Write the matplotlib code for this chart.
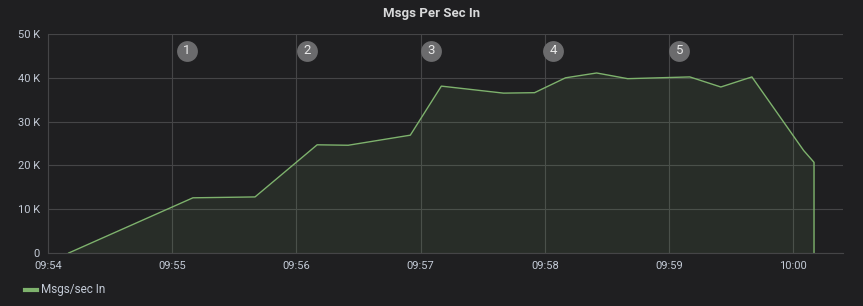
import datetime as dt

import matplotlib
import matplotlib.pyplot as plt
import matplotlib.dates as mdates
from matplotlib.ticker import FuncFormatter

matplotlib.use('agg')

# series data (time, msgs/sec)
times = ["09:54:10", "09:55:10", "09:55:40", "09:56:10", "09:56:25", "09:56:55",
         "09:57:10", "09:57:40", "09:57:55", "09:58:10", "09:58:25", "09:58:40",
         "09:59:10", "09:59:25", "09:59:40", "10:00:05", "10:00:10", "10:00:10"]
values = [0, 12600, 12800, 24700, 24600, 26900,
          38100, 36500, 36600, 40000, 41100, 39800,
          40200, 37900, 40200, 23400, 20700, 0]

# annotation markers
ann_times = ["09:55:07", "09:56:05", "09:57:05", "09:58:04", "09:59:05"]
ann_labels = ["1", "2", "3", "4", "5"]

day = dt.date(2020, 1, 1)


def to_dt(s):
    return dt.datetime.combine(day, dt.datetime.strptime(s, "%H:%M:%S").time())


x = [to_dt(t) for t in times]
ax_times = [to_dt(t) for t in ann_times]

bg = '#1f1f21'
grid_c = '#454547'
tick_c = '#c3cad6'
line_c = '#7eb26d'

plt.rcParams['font.family'] = ['Roboto', 'DejaVu Sans']

fig = plt.figure(figsize=(8.63, 3.06), dpi=100, facecolor=bg)
ax = fig.add_axes([48 / 863, 53 / 306, 795 / 863, 219 / 306], facecolor=bg)

ax.fill_between(x, values, 0, color=line_c, alpha=0.1, linewidth=0)
ax.plot(x, values, color=line_c, linewidth=1)

ax.set_xlim(to_dt("09:54:00"), to_dt("10:00:24"))
ax.set_ylim(0, 50000)
ax.set_yticks(range(0, 50001, 10000))
ax.yaxis.set_major_formatter(FuncFormatter(lambda v, p: "0" if v == 0 else f"{int(v / 1000)} K"))
ax.xaxis.set_major_locator(mdates.MinuteLocator())
ax.xaxis.set_major_formatter(mdates.DateFormatter('%H:%M'))

ax.grid(True, color=grid_c, linewidth=0.8)
ax.set_axisbelow(True)
for s in ['top', 'right']:
    ax.spines[s].set_visible(False)
for s in ['left', 'bottom']:
    ax.spines[s].set_color(grid_c)
    ax.spines[s].set_linewidth(0.8)
ax.tick_params(colors=tick_c, labelsize=8, length=0, pad=6)

# annotation circles
for t, lab in zip(ax_times, ann_labels):
    ax.plot(t, 46200, marker='o', markersize=15, color='#6b6b6d', markeredgewidth=0, zorder=5)
    ax.text(t, 46200, lab, color='#e8e8e8', fontsize=9.5, ha='center', va='center', zorder=6)

fig.text(0.5, 1 - 14 / 306, "Msgs Per Sec In", color='#d8d9da', fontsize=9.5,
         fontweight='bold', ha='center', va='center')

# legend
fig.lines.append(plt.Line2D([25 / 863, 37 / 863], [1 - 290 / 306] * 2, color=line_c,
                            linewidth=3, transform=fig.transFigure))
fig.text(41 / 863, 1 - 290 / 306, "Msgs/sec In", color=tick_c, fontsize=8.5, va='center')

fig.savefig('out.png', dpi=100, facecolor=bg)
